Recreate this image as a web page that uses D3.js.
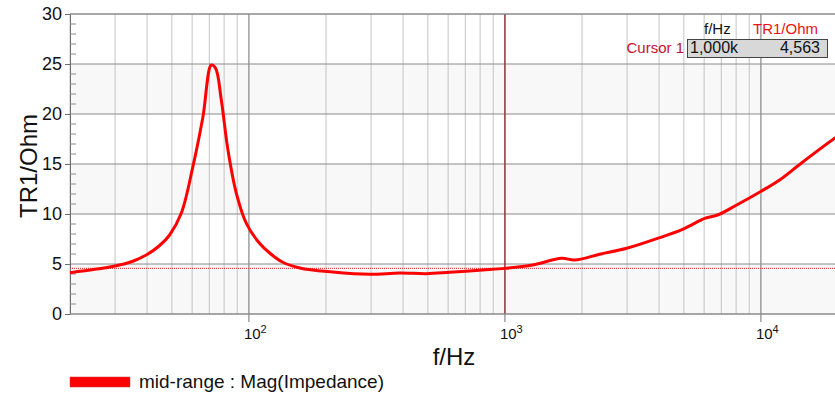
<!DOCTYPE html>
<html>
<head>
<meta charset="utf-8">
<script src="https://cdn.jsdelivr.net/npm/d3@7"></script>
<style>
  body { margin: 0; background: #fff; }
  svg { display: block; font-family: "Liberation Sans", Arial, sans-serif; }
</style>
</head>
<body>
<div id="graph"></div>
<script>
// impedance curve
const freqs = [20, 25, 30, 35, 40, 44.8, 49, 54.4, 60.4, 66.1, 71.3, 74.1, 78, 82.8, 89.3, 97.7,
  110, 120.5, 135, 158, 212, 296, 388, 494, 608, 818, 1000, 1283, 1665, 1872, 2344, 2990,
  4020, 4940, 5760, 6030, 6770, 8040, 10060, 11830, 14160, 19400, 20000];
const impedance = [4.13, 4.47, 4.8, 5.25, 5.95, 6.85, 7.9, 10.07, 14.73, 19.7, 24.9, 24.57, 21.4, 16.4, 12.07, 9.07,
  7.07, 6.1, 5.2, 4.6, 4.2, 3.97, 4.1, 4.03, 4.17, 4.4, 4.563, 4.9, 5.57, 5.4, 5.97, 6.57,
  7.63, 8.47, 9.33, 9.57, 9.9, 10.9, 12.3, 13.4, 14.95, 17.57, 17.8];
const yTicks = [0, 5, 10, 15, 20, 25, 30];
const decades = [100, 1000, 10000];
const decadeExp = ["2", "3", "4"];
const cursorFreq = 1000;
const cursorValue = 4.563;
const cursorFreqText = "1,000k";
const cursorValueText = "4,563";
const legendText = "mid-range : Mag(Impedance)";

const width = 835, height = 393;
const plotLeft = 70, plotTop = 14, plotBottom = 314, plotRight = 838;

const svg = d3.select("#graph").append("svg")
  .attr("width", width).attr("height", height);

const x = d3.scaleLog().domain([20, 20000]).range([plotLeft, plotRight]);
const y = d3.scaleLinear().domain([0, 30]).range([plotBottom, plotTop]);

// alternating bands
for (let i = 0; i < yTicks.length - 1; i += 2) {
  svg.append("rect")
    .attr("x", plotLeft).attr("y", y(yTicks[i + 1]))
    .attr("width", width - plotLeft).attr("height", y(yTicks[i]) - y(yTicks[i + 1]))
    .attr("fill", "#f8f8f8");
}

// vertical grid
const minorF = [];
[10, 100, 1000, 10000].forEach(d => {
  for (let k = 2; k <= 9; k++) {
    const f = d * k;
    if (f >= 20 && f <= 20000) minorF.push(f);
  }
});
svg.append("g").selectAll("line").data(minorF).enter().append("line")
  .attr("x1", d => x(d)).attr("x2", d => x(d))
  .attr("y1", plotTop).attr("y2", plotBottom)
  .attr("stroke", "#c4c4c4").attr("stroke-width", 1);
svg.append("g").selectAll("line").data(decades).enter().append("line")
  .attr("x1", d => x(d)).attr("x2", d => x(d))
  .attr("y1", plotTop).attr("y2", plotBottom + 8)
  .attr("stroke", "#6e6e6e").attr("stroke-width", 1);

// horizontal grid
svg.append("g").selectAll("line").data(yTicks).enter().append("line")
  .attr("x1", plotLeft).attr("x2", width)
  .attr("y1", d => y(d)).attr("y2", d => y(d))
  .attr("stroke", "#8a8a8a").attr("stroke-width", 1);

// y axis
const yAxis = svg.append("g").attr("transform", "translate(" + plotLeft + ",0)")
  .call(d3.axisLeft(y).tickValues(yTicks).tickSize(5).tickPadding(3));
yAxis.select(".domain").attr("stroke", "#6e6e6e");
yAxis.selectAll(".tick line").attr("stroke", "#6e6e6e");
yAxis.selectAll("text").attr("font-size", "18px").attr("fill", "#111")
  .attr("font-family", "Liberation Sans, Arial, sans-serif");

// minor y ticks inside
const minorY = d3.range(0, 31).filter(v => v % 5 !== 0);
svg.append("g").selectAll("line").data(minorY).enter().append("line")
  .attr("x1", plotLeft).attr("x2", plotLeft + 6)
  .attr("y1", d => y(d)).attr("y2", d => y(d))
  .attr("stroke", "#8a8a8a");

// x tick labels 10^n
const xl = svg.append("g").selectAll("text").data(decades).enter().append("text")
  .attr("x", d => x(d) - 5).attr("y", 339)
  .attr("font-size", "15px").attr("fill", "#111");
xl.append("tspan").text("10");
xl.append("tspan").attr("dy", -6).attr("font-size", "11px").text((d, i) => decadeExp[i]);

// cursor lines
svg.append("line")
  .attr("x1", plotLeft).attr("x2", width)
  .attr("y1", y(cursorValue)).attr("y2", y(cursorValue))
  .attr("stroke", "#e04848").attr("stroke-width", 1.2).attr("stroke-dasharray", "1,1");
svg.append("line")
  .attr("x1", x(cursorFreq)).attr("x2", x(cursorFreq))
  .attr("y1", plotTop).attr("y2", plotBottom)
  .attr("stroke", "#a01020").attr("stroke-width", 1);

// curve
const line = d3.line()
  .x((d, i) => x(freqs[i]))
  .y(d => y(d))
  .curve(d3.curveCatmullRom.alpha(0.5));
svg.append("path")
  .datum(impedance)
  .attr("d", line)
  .attr("fill", "none")
  .attr("stroke", "#ff0000")
  .attr("stroke-width", 3)
  .attr("stroke-linejoin", "round");

// frame lines
svg.append("line").attr("x1", plotLeft).attr("x2", width).attr("y1", plotTop).attr("y2", plotTop)
  .attr("stroke", "#8a8a8a");
svg.append("line").attr("x1", plotLeft).attr("x2", width).attr("y1", plotBottom).attr("y2", plotBottom)
  .attr("stroke", "#8a8a8a");

// cursor readout
svg.append("rect").attr("x", 687.5).attr("y", 39.5).attr("width", 140).attr("height", 18)
  .attr("fill", "#d8d8d8").attr("stroke", "#444").attr("stroke-width", 1);
svg.append("text").attr("x", 704).attr("y", 34).attr("font-size", "15px").attr("fill", "#111").text("f/Hz");
svg.append("text").attr("x", 753).attr("y", 34).attr("font-size", "15px").attr("fill", "#ee1111").text("TR1/Ohm");
svg.append("text").attr("x", 684).attr("y", 53).attr("text-anchor", "end")
  .attr("font-size", "15px").attr("fill", "#c8102e").text("Cursor 1");
svg.append("text").attr("x", 690).attr("y", 53).attr("font-size", "16px").attr("fill", "#111").text(cursorFreqText);
svg.append("text").attr("x", 820).attr("y", 53).attr("text-anchor", "end")
  .attr("font-size", "16px").attr("fill", "#111").text(cursorValueText);

// axis titles
svg.append("text").attr("x", 454).attr("y", 365).attr("text-anchor", "middle")
  .attr("font-size", "24px").attr("fill", "#111").text("f/Hz");
svg.append("text").attr("transform", "translate(37,166) rotate(-90)").attr("text-anchor", "middle")
  .attr("font-size", "24px").attr("fill", "#111").text("TR1/Ohm");

// legend
svg.append("rect").attr("x", 70).attr("y", 377).attr("width", 60).attr("height", 10)
  .attr("fill", "#ff0000").attr("stroke", "#cc3333").attr("stroke-width", 0.5);
svg.append("text").attr("x", 139).attr("y", 388).attr("font-size", "19px").attr("fill", "#111").text(legendText);
</script>
</body>
</html>
